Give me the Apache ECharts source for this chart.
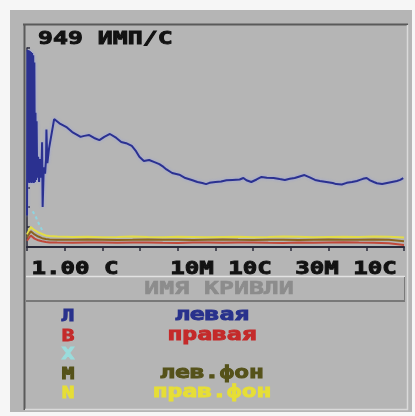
<!DOCTYPE html>
<html>
<head>
<meta charset="utf-8">
<script src="https://cdn.jsdelivr.net/npm/echarts@6/dist/echarts.min.js"></script>
<style>
  html, body { margin: 0; padding: 0; background: #ffffff; }
  #chart { width: 415px; height: 416px; }
</style>
</head>
<body>
<div id="chart"></div>
<script>
// Count-rate trace: x in screen divisions (0..100), y in counts per second
const countRateTitle = '949 ИМП/С';
const yMax = 949;
const timeLabels = ['1.00 С', '10М 10С', '30М 10С'];
const legendTitle = 'ИМЯ КРИВЛИ';
const curveLetters = ['Л', 'В', 'Х', 'М', 'N'];
const curveNames = ['левая', 'правая', '', 'лев.фон', 'прав.фон'];

// "левая" (left detector)
const leftX = [0.0, 0.15, 0.3, 0.45, 0.6, 0.75, 0.9, 1.05, 1.2, 1.35, 1.5, 1.65, 1.8, 1.95, 2.1, 2.25, 2.4, 2.55,
  2.7, 2.95, 3.2, 3.45, 3.7, 3.9, 4.0, 4.15, 4.45, 4.8, 5.05, 5.15, 5.4,
  5.85, 7.2, 8.6, 10.6, 12.0, 13.3, 14.2, 15.2, 16.5, 17.8, 19.2, 20.5, 22.0, 23.7, 25.0, 26.3, 27.8, 28.8, 29.8, 31.0, 32.4, 33.8, 35.1, 36.2, 37.0, 38.5,
  40.4, 42.0, 43.9, 45.2, 46.5, 47.5, 48.4, 50.0, 51.5, 52.9, 54.5, 56.4, 57.4, 58.2, 59.5, 60.9, 62.2, 63.6, 65.4, 67.0, 68.4, 69.7, 71.0, 72.3, 73.6,
  75.0, 76.4, 77.7, 79.4, 81.1, 82.0, 83.5, 84.8, 86.2, 87.5, 88.3, 89.1, 90.1, 91.0, 92.0, 92.8, 94.2, 95.5, 96.8, 98.1, 99.0, 99.8];
const leftY = [150, 940, 310, 938, 305, 935, 310, 930, 305, 925, 310, 915, 305, 880, 310, 640, 320, 600,
  330, 430, 310, 420, 330, 410, 500, 191, 380, 350, 420, 560, 400, 470,
  610, 590, 570, 548, 535, 525, 530, 534, 520, 510, 525, 539, 520, 501, 495, 482, 460, 430, 410, 415, 405, 395, 382, 370, 353, 345,
  329, 318, 310, 305, 300, 306, 310, 312, 318, 320, 322, 329, 318, 310, 322, 334, 330, 329, 324, 320, 325, 329, 336, 343, 332,
  320, 315, 310, 305, 300, 298, 306, 310, 315, 320, 325, 329, 318, 310, 304, 300, 305, 310, 315, 320, 328, 338];

// low-level curves share one time grid
const lowX = [0, 1, 2, 3, 4, 5, 6, 8, 12, 16, 20, 24, 28, 32, 36, 40, 44, 48, 52, 56, 60, 64, 68, 72, 76, 80, 84, 88, 92, 96, 100];
const rightY = [30, 55, 40, 32, 27, 24, 22, 21, 20, 22, 21, 20, 21, 22, 20, 19, 21, 22, 20, 21, 22, 20, 19, 21, 20, 22, 23, 21, 20, 18, 10];
const leftBgY = [45, 75, 60, 50, 42, 38, 36, 35, 34, 36, 35, 33, 34, 36, 35, 34, 33, 35, 36, 34, 33, 35, 34, 33, 35, 36, 34, 35, 36, 34, 28];
const rightBgY = [60, 95, 80, 70, 62, 55, 52, 50, 48, 49, 47, 48, 50, 48, 47, 49, 48, 47, 48, 49, 47, 48, 50, 49, 47, 48, 49, 48, 50, 49, 45];
// "Х" curve only registers at the very start
const crossX = [1.5, 2.2, 2.9, 3.6, 4.3];
const crossY = [170, 150, 120, 95, 70];

const curveColors = ['#28318c', '#c42a2a', '#9adcdc', '#55521a', '#e6de36'];
const lineColors = ['#2b3190', '#c0483a', '#8fd4e0', '#8a6420', '#e2dc48'];

const zip = (xs, ys) => xs.map((x, i) => [x, ys[i]]);

const mono = '"DejaVu Sans Mono", "Liberation Mono", monospace';

const chart = echarts.init(document.getElementById('chart'), null, { renderer: 'canvas' });

function lineSeries(name, data, color, extra) {
  return Object.assign({
    name, type: 'line', data, showSymbol: false, symbol: 'none',
    lineStyle: { color, width: 2 }, animation: false, silent: true
  }, extra || {});
}

const graphics = [];
// white margins round the grey panel
graphics.push({ type: 'rect', shape: { x: 0, y: 0, width: 415, height: 10 }, style: { fill: '#f6f6f6' } });
graphics.push({ type: 'rect', shape: { x: 0, y: 0, width: 10, height: 416 }, style: { fill: '#f6f6f6' } });
graphics.push({ type: 'rect', shape: { x: 412, y: 0, width: 3, height: 416 }, style: { fill: '#f6f6f6' } });
graphics.push({ type: 'rect', shape: { x: 0, y: 412, width: 415, height: 4 }, style: { fill: '#f6f6f6' } });
// frame lines
graphics.push({ type: 'line', shape: { x1: 23, y1: 24.5, x2: 408, y2: 24.5 }, style: { stroke: '#5a5a5a', lineWidth: 2 } });
graphics.push({ type: 'line', shape: { x1: 24.5, y1: 24, x2: 24.5, y2: 410 }, style: { stroke: '#5a5a5a', lineWidth: 2 } });
graphics.push({ type: 'line', shape: { x1: 407.5, y1: 25, x2: 407.5, y2: 410 }, style: { stroke: '#dadada', lineWidth: 1.5 } });
graphics.push({ type: 'line', shape: { x1: 25, y1: 409.5, x2: 408, y2: 409.5 }, style: { stroke: '#dadada', lineWidth: 1.5 } });
// header box for the curve list
graphics.push({ type: 'line', shape: { x1: 26, y1: 276.5, x2: 405, y2: 276.5 }, style: { stroke: '#e2e2e2', lineWidth: 1.5 } });
graphics.push({ type: 'line', shape: { x1: 26, y1: 301, x2: 405, y2: 301 }, style: { stroke: '#646464', lineWidth: 1.5 } });
graphics.push({ type: 'line', shape: { x1: 404.5, y1: 277, x2: 404.5, y2: 301 }, style: { stroke: '#7a7a7a', lineWidth: 1 } });

// heavy screen-style lettering: bold mono, widened, outlined in its own colour
function label(text, x, y, opts) {
  const fill = opts.fill || '#121212';
  graphics.push({
    type: 'text', x, y, scaleX: opts.scaleX || 1.38, z: 10,
    style: {
      text, fill, stroke: fill, lineWidth: opts.weight == null ? 0.9 : opts.weight,
      font: 'bold ' + (opts.size || 18) + 'px ' + mono,
      align: opts.align || 'left', verticalAlign: 'middle'
    }
  });
}

label(countRateTitle, 38, 39, {});
const timeCenters = [75, 221, 346];
timeLabels.forEach((t, i) => label(t, timeCenters[i], 269, { align: 'center', scaleX: 1.34 }));
label(legendTitle, 219, 289, { align: 'center', fill: '#8c8c8c', weight: 0.6 });

const rowY = [317, 337, 355, 375, 394];
curveLetters.forEach((c, i) => {
  label(c, 68, rowY[i], { align: 'center', size: 15, scaleX: 1.4, fill: curveColors[i] });
  if (curveNames[i]) label(curveNames[i], 212, rowY[i] - 1, { align: 'center', size: 17, scaleX: 1.45, fill: curveColors[i] });
});

chart.setOption({
  backgroundColor: '#b5b5b5',
  animation: false,
  grid: { left: 27, right: 11, top: 48, bottom: 169, containLabel: false },
  xAxis: {
    type: 'value', min: 0, max: 100, interval: 10,
    axisLine: { show: true, onZero: false, lineStyle: { color: '#2a2a3a', width: 2 } },
    axisTick: { show: true, inside: false, length: 4, lineStyle: { color: '#2a2a3a', width: 1.5 } },
    axisLabel: { show: false }, splitLine: { show: false }
  },
  yAxis: {
    type: 'value', min: 0, max: yMax, interval: yMax / 10,
    axisLine: { show: true, lineStyle: { color: '#2a2a3a', width: 1.5 } },
    axisTick: { show: true, inside: true, length: 3, lineStyle: { color: '#2a2a3a', width: 1.5 } },
    axisLabel: { show: false }, splitLine: { show: false }
  },
  series: [
    lineSeries('прав.фон', zip(lowX, rightBgY), lineColors[4], { z: 2 }),
    lineSeries('лев.фон', zip(lowX, leftBgY), lineColors[3], { z: 3 }),
    lineSeries('правая', zip(lowX, rightY), lineColors[1], { z: 4 }),
    lineSeries('Х', zip(crossX, crossY), lineColors[2], { z: 5, lineStyle: { color: lineColors[2], width: 2, type: [3, 3] } }),
    lineSeries('левая', zip(leftX, leftY), lineColors[0], {
      z: 6, lineStyle: { color: lineColors[0], width: 2, shadowColor: 'rgba(150,160,230,0.9)', shadowBlur: 3 }
    })
  ],
  graphic: graphics
});
</script>
</body>
</html>
